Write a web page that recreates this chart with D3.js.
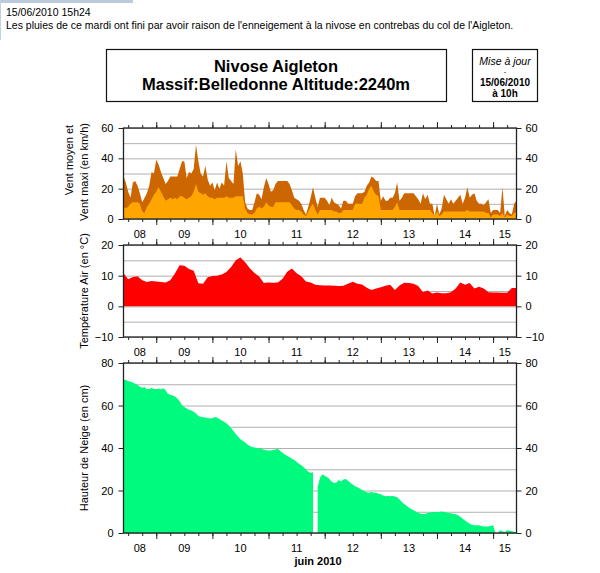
<!DOCTYPE html>
<html><head><meta charset="utf-8">
<script src="https://cdn.jsdelivr.net/npm/d3@7"></script>
<style>body{margin:0;background:#fff} text{font-family:"Liberation Sans",Arial,Helvetica,sans-serif;fill:#000}</style>
</head><body><svg id="c" width="600" height="573"></svg>
<script>
// ---------- data ----------
const headerDate = "15/06/2010 15h24";
const headerNote = "Les pluies de ce mardi ont fini par avoir raison de l'enneigement à la nivose en contrebas du col de l'Aigleton.";
const titleLines = ["Nivose Aigleton", "Massif:Belledonne Altitude:2240m"];
const updateLines = ["Mise à jour", "-", "15/06/2010", "à 10h"];
const xAxisTitle = "juin 2010";
const windTitle = ["Vent moyen et", "Vent maxi (en km/h)"];
const tempTitle = "Température Air (en °C)";
const snowTitle = "Hauteur de Neige (en cm)";

const startTime = Date.UTC(2010, 5, 8, 10);   // 08/06/2010 10h UTC
const endTime   = Date.UTC(2010, 5, 15, 10);  // 15/06/2010 10h
const windStepHours = 1, tempStepHours = 2, snowStepHours = 1;

const windMax = [28,24,18,14,24,25,22,17,11,14, 17,22,31,30,39,36,31,27,23,25,
  28,28,28,28,33,38,38,27,31,30, 33,49,38,30,28,35,26,22,24,19, 24,20,24,22,38,27,25,23,46,35,
  38,30,11,7,6,6,11,17,16,13, 21,27,23,18,19,23,25,25,25,25, 25,23,19,14,13,12,10,6,3,8,
  14,21,14,8, 14,14,14,12,9,14,11,10,9,7, 12,12,10,10,10,15,17,17,17,18,
  22,24,28,27,25,25,12,15,12,12, 14,14,17,24,12,14,17,17,17,17, 17,15,13,10,17,13,16,10,10,2,
  10,3,7,16,13,10,13,10,12,14, 16,10,14,21,14,16,17,12,10,10, 9,11,13,4,6,6,6,4,21,2, 6,4,3,10,12];
const windMean = [8,7,8,10,11,11,11,10,5,4, 8,10,13,16,18,21,18,15,12,13,
  14,13,14,13,15,15,14,13,14,15, 18,23,18,17,16,17,15,14,14,13, 14,14,14,14,15,14,14,14,15,15,
  15,15,7,4,3,3,4,7,8,7, 8,11,9,8,8,11,11,11,11,11, 11,11,9,7,6,6,5,3,2,5,
  8,10,6,3, 6,6,6,6,6,6,5,5,4,4, 6,6,6,6,6,10,10,10,10,14,
  16,20,22,18,16,15,6,6,6,6, 6,6,8,11,6,6,6,6,6,6, 6,6,6,6,6,6,6,6,4,2,
  5,2,3,5,5,5,5,5,5,5, 5,5,5,6,5,5,5,5,5,5, 5,4,4,1,3,3,3,2,4,1, 3,2,2,4,5];
const temperature = [10.8,8.8,9.6,9.8,8.5,7.9,8.3,8.1,7.9,7.8, 8.5,10.7,13.4,13.2,12.2,11.6,7.5,7.4,9.5,9.9,
  10.0,10.4,11.2,12.8,15.0,15.9,14.4,12.4,10.9,9.7, 7.6,7.8,7.7,7.8,9.0,11.3,12.3,10.8,9.8,8.1,
  7.8,7.0,6.9,6.8,6.8,6.7,6.6,6.7,7.4,8.0, 7.4,7.1,6.1,5.3,5.8,6.2,6.7,7.0,5.3,6.8,
  7.7,7.6,7.4,6.6,4.6,5.2,4.2,4.5,4.3,4.3, 4.6,5.8,7.8,7.0,7.6,5.8,6.4,5.8,4.6,4.5, 4.5,4.4,4.4,6.0,6.0];
const snowDepth = [72.1,72,71.5,71.2,70.8,70.2,69.6,68.8,68.3,68.7,
  67.6,67.8,68.2,67.8,67.8,67.9,67.6,68.1,67.2,65.4, 65.1,64.7,64.2,63.3,62,60.2,59.3,58.6,58,57.6,
  57.1,56.2,55.1,54.7,54.5,54.3,54.1,53.9,54,54.6, 54.3,53.6,52.9,52.3,51.7,50.6,49.4,48,46.6,45.3,
  44.1,43.4,42.6,41.7,41,40.5,40.2,40,39.9,39.7, 39.2,39,38.8,38.8,39.1,39.3,39.6,38.6,37.8,37,
  36.2,35.6,34.9,34.3,33.5,32.6,31.9,31,30,28.8, 28.2,28.6,null,21.5,26,27.6,26.9,26.3,25.4,24.1,
  23.5,23.8,24.9,24.2,25.2,25.4,24.6,23.6,22.8,22, 21.5,21,20.2,19.6,19.2,18.9,19.3,18.9,18.9,18.5,
  18.2,17.7,17.3,17.4,17.3,17.4,17.2,16.8,15.8,14.6, 13.7,12.8,12,11.3,10.7,10.1,9.5,9.1,8.9,9.1,
  9.4,9.6,9.8,9.9,9.9,9.9,10.1,9.9,9.7,9.4, 9.3,9.1,8.8,8.4,7.6,6.7,5.9,5.1,4.4,3.9,
  3.6,3.6,3.6,3.3,3.1,3.1,3.1,3.4,3.6,0, 0,1.3,0.8,0.4,1.3,1.2,0.8,0.6,0.3];
const windTicks = [0, 20, 40, 60];
const tempTicks = [-10, 0, 10, 20];
const snowTicks = [0, 20, 40, 60, 80];

// ---------- drawing ----------
const svg = d3.select("#c");
const HOUR = 3600e3;
const x = d3.scaleUtc().domain([new Date(startTime), new Date(endTime)]).range([123.5, 516.5]);
const timeAt = (i, step) => new Date(startTime + i * step * HOUR);

// page remnants (blog frame)
svg.append("rect").attr("x", 0).attr("y", 0).attr("width", 133).attr("height", 3).attr("fill", "#bccbdb");
svg.append("rect").attr("x", 0).attr("y", 0).attr("width", 1).attr("height", 40).attr("fill", "#c2d1e0");

// header
svg.append("text").attr("x", 6).attr("y", 16).attr("font-size", 10.5).text(headerDate);
svg.append("text").attr("x", 6).attr("y", 28.5).attr("font-size", 10.5).text(headerNote);

// title boxes
svg.append("rect").attr("x", 106.5).attr("y", 49.5).attr("width", 340).attr("height", 52)
  .attr("fill", "none").attr("stroke", "#111").attr("stroke-width", 1.2);
svg.append("text").attr("x", 276).attr("y", 72).attr("text-anchor", "middle")
  .attr("font-size", 16.5).attr("font-weight", "bold").text(titleLines[0]);
svg.append("text").attr("x", 276).attr("y", 90).attr("text-anchor", "middle")
  .attr("font-size", 16.5).attr("font-weight", "bold").text(titleLines[1]);
svg.append("rect").attr("x", 472.5).attr("y", 49.5).attr("width", 65).attr("height", 52)
  .attr("fill", "none").attr("stroke", "#111").attr("stroke-width", 1.2);
svg.append("text").attr("x", 505).attr("y", 65).attr("text-anchor", "middle")
  .attr("font-size", 10.5).attr("font-style", "italic").text(updateLines[0]);
svg.append("text").attr("x", 505).attr("y", 74).attr("text-anchor", "middle")
  .attr("font-size", 7).text(updateLines[1]);
svg.append("text").attr("x", 505).attr("y", 85.5).attr("text-anchor", "middle")
  .attr("font-size", 10).attr("font-weight", "bold").text(updateLines[2]);
svg.append("text").attr("x", 505).attr("y", 97).attr("text-anchor", "middle")
  .attr("font-size", 10).attr("font-weight", "bold").text(updateLines[3]);

function panel(cfg) {
  const y = d3.scaleLinear().domain(cfg.domain).range([cfg.bottom, cfg.top]);
  const g = svg.append("g");
  const [x0, x1] = x.range();
  // grid
  g.selectAll(null).data(d3.range(cfg.domain[0], cfg.domain[1] + 0.001, cfg.gridStep)).enter()
    .append("line").attr("x1", x0).attr("x2", x1)
    .attr("y1", d => y(d) + 0.5).attr("y2", d => y(d) + 0.5)
    .attr("stroke", "#b0b0b0").attr("stroke-width", 1);
  // series
  cfg.series.forEach(s => {
    const area = d3.area().defined(d => d != null)
      .x((d, i) => x(timeAt(i, s.step)))
      .y0(y(0)).y1(d => y(d));
    g.append("path").datum(s.values).attr("d", area).attr("fill", s.color);
  });
  // frame
  g.append("rect").attr("x", x0).attr("y", cfg.top).attr("width", x1 - x0).attr("height", cfg.bottom - cfg.top)
    .attr("fill", "none").attr("stroke", "#222").attr("stroke-width", 1.3);
  // y axes
  const fmt = d3.format("d");
  const la = g.append("g").attr("transform", `translate(${x0},0)`)
    .call(d3.axisLeft(y).tickValues(cfg.ticks).tickSize(5).tickPadding(5).tickFormat(fmt));
  const ra = g.append("g").attr("transform", `translate(${x1},0)`)
    .call(d3.axisRight(y).tickValues(cfg.ticks).tickSize(5).tickPadding(4).tickFormat(fmt));
  [la, ra].forEach(a => {
    a.select(".domain").remove();
    a.selectAll("text").attr("font-size", 11).attr("font-family", null).attr("fill", "#000");
    a.selectAll("line").attr("stroke", "#222");
  });
  // x ticks top and bottom
  const minor = d3.utcHour.every(6), major = d3.utcDay;
  [[d3.axisBottom, cfg.bottom], [d3.axisTop, cfg.top]].forEach(([ax, yy]) => {
    const m = g.append("g").attr("transform", `translate(0,${yy})`)
      .call(ax(x).ticks(minor).tickSize(3).tickFormat(""));
    const M = g.append("g").attr("transform", `translate(0,${yy})`)
      .call(ax(x).ticks(major).tickSize(6).tickFormat(""));
    [m, M].forEach(a => { a.select(".domain").remove(); a.selectAll("line").attr("stroke", "#222"); });
  });
  // day labels centred on the visible part of each day
  const days = d3.utcDay.range(d3.utcDay.floor(x.domain()[0]), x.domain()[1]);
  g.selectAll(null).data(days).enter().append("text")
    .attr("x", d => {
      const a = Math.max(+d, +x.domain()[0]), b = Math.min(+d3.utcDay.offset(d, 1), +x.domain()[1]);
      return (x(new Date(a)) + x(new Date(b))) / 2;
    })
    .attr("y", cfg.bottom + 19).attr("text-anchor", "middle").attr("font-size", 11)
    .text(d3.utcFormat("%d"));
  // y title
  cfg.title.forEach((t, i) => {
    g.append("text").attr("transform", `translate(${t.x},${t.y}) rotate(-90)`)
      .attr("text-anchor", "middle").attr("font-size", 11).text(t.text);
  });
}

panel({ top: 128, bottom: 219, domain: [0, 60], gridStep: 10, ticks: windTicks,
  series: [{ values: windMax, step: windStepHours, color: "#cc6600" },
           { values: windMean, step: windStepHours, color: "#ffa500" }],
  title: [{ text: windTitle[0], x: 73, y: 160 }, { text: windTitle[1], x: 88, y: 172 }] });
panel({ top: 245, bottom: 337, domain: [-10, 20], gridStep: 5, ticks: tempTicks,
  series: [{ values: temperature, step: tempStepHours, color: "#ff0000" }],
  title: [{ text: tempTitle, x: 88, y: 291 }] });
panel({ top: 363, bottom: 533, domain: [0, 80], gridStep: 10, ticks: snowTicks,
  series: [{ values: snowDepth, step: snowStepHours, color: "#00fa7d" }],
  title: [{ text: snowTitle, x: 88, y: 448 }] });

svg.append("text").attr("x", 318).attr("y", 565).attr("text-anchor", "middle")
  .attr("font-size", 11).attr("font-weight", "bold").text(xAxisTitle);
</script></body></html>
